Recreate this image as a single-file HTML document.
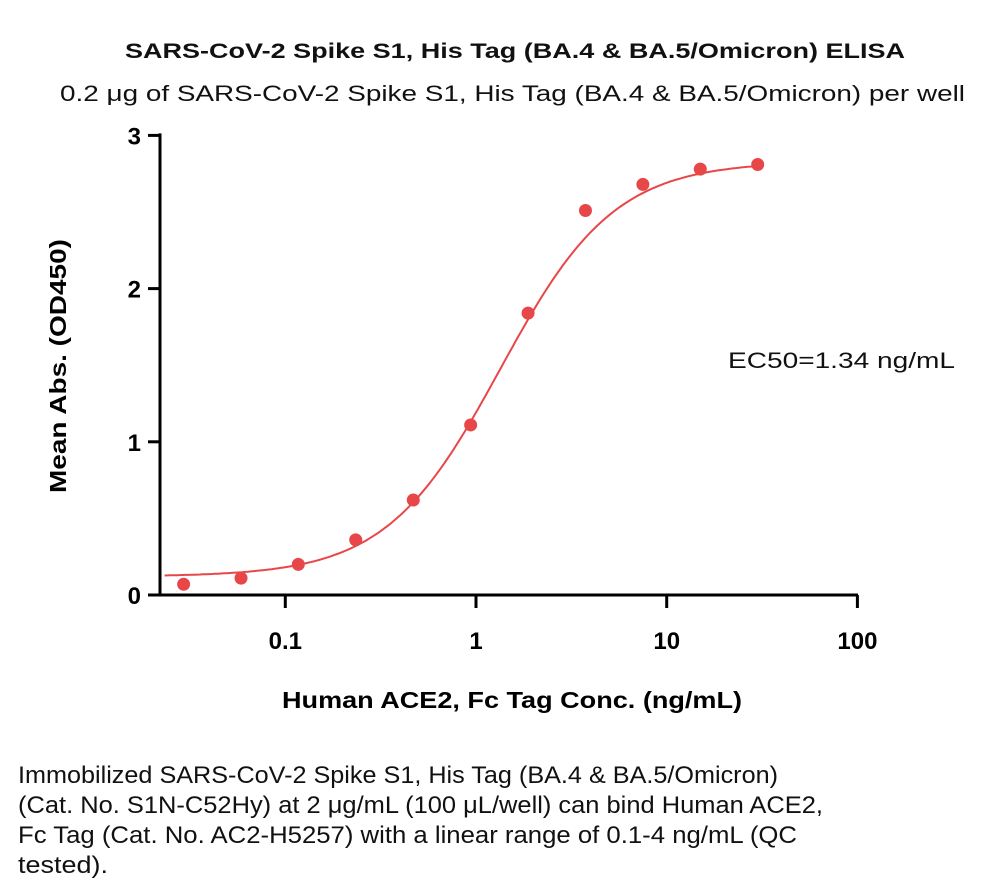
<!DOCTYPE html>
<html><head><meta charset="utf-8"><style>
body{margin:0;background:#fff;width:1000px;height:895px;overflow:hidden;font-family:"Liberation Sans",sans-serif}
svg text{font-family:"Liberation Sans",sans-serif}
</style></head><body>
<svg id="chart" width="1000" height="895" style="position:absolute;left:0;top:0">
<g font-size="24" fill="#111">
<text x="18" y="783" textLength="760" lengthAdjust="spacingAndGlyphs">Immobilized SARS-CoV-2 Spike S1, His Tag (BA.4 &amp; BA.5/Omicron)</text>
<text x="18" y="813" textLength="805" lengthAdjust="spacingAndGlyphs">(Cat. No. S1N-C52Hy) at 2 μg/mL (100 μL/well) can bind Human ACE2,</text>
<text x="18" y="843" textLength="779" lengthAdjust="spacingAndGlyphs">Fc Tag (Cat. No. AC2-H5257) with a linear range of 0.1-4 ng/mL (QC</text>
<text x="18" y="873" textLength="90" lengthAdjust="spacingAndGlyphs">tested).</text>
</g>
</svg>
<script>
const conc=[0.0293,0.0586,0.117,0.234,0.469,0.9375,1.875,3.75,7.5,15,30];
const od=[0.07,0.11,0.2,0.36,0.62,1.11,1.84,2.51,2.68,2.78,2.81];
const yTicks=[0,1,2,3];
const xTicks=[0.1,1,10,100];
const xTickLabels=["0.1","1","10","100"];
const fit={bottom:0.12,top:2.83,ec50:1.34,hill:1.45};
const svg=document.getElementById('chart');const NS='http://www.w3.org/2000/svg';
function X(v){return 476+Math.log10(v)*190.7;}
function Y(v){return 595-v*153.2;}
function mk(t,a,txt){const e=document.createElementNS(NS,t);for(const k in a)e.setAttribute(k,a[k]);if(txt!=null)e.textContent=txt;svg.appendChild(e);return e;}
let e;
e=mk('text',{x:125,y:58,'font-size':21,'font-weight':'bold',fill:'#111',textLength:780,lengthAdjust:'spacingAndGlyphs'},'SARS-CoV-2 Spike S1, His Tag (BA.4 & BA.5/Omicron) ELISA');


e=mk('text',{x:60,y:101,'font-size':22,fill:'#111',textLength:905,lengthAdjust:'spacingAndGlyphs'},'0.2 μg of SARS-CoV-2 Spike S1, His Tag (BA.4 & BA.5/Omicron) per well');


e=mk('line',{x1:160,y1:Y(3)-2,x2:160,y2:596,stroke:'#000','stroke-width':3});


e=mk('line',{x1:159,y1:595,x2:858,y2:595,stroke:'#000','stroke-width':3});


yTicks.forEach(v=>{e=mk('line',{x1:148,y1:Y(v),x2:160,y2:Y(v),stroke:'#000','stroke-width':3});


e=mk('text',{x:141,y:Y(v)+9,'text-anchor':'end','font-size':24,'font-weight':'bold'},String(v));

});
xTicks.forEach((v,i)=>{e=mk('line',{x1:X(v),y1:595,x2:X(v),y2:608,stroke:'#000','stroke-width':3});


e=mk('text',{x:X(v),y:649,'text-anchor':'middle','font-size':24,'font-weight':'bold'},xTickLabels[i]);

});
e=mk('text',{x:282,y:708,'font-size':23,'font-weight':'bold',textLength:460,lengthAdjust:'spacingAndGlyphs'},'Human ACE2, Fc Tag Conc. (ng/mL)');


e=mk('text',{x:0,y:0,'font-size':23,'font-weight':'bold',textLength:254,lengthAdjust:'spacingAndGlyphs',transform:'translate(66,493) rotate(-90)'},'Mean Abs. (OD450)');


let d='';const lo=Math.log10(conc[0])-0.1,hi=Math.log10(conc[conc.length-1])+0.01;
for(let i=0;i<=200;i++){const lx=lo+(hi-lo)*i/200,c=Math.pow(10,lx);const y=fit.bottom+(fit.top-fit.bottom)/(1+Math.pow(fit.ec50/c,fit.hill));d+=(i?'L':'M')+X(c).toFixed(1)+','+Y(y).toFixed(1);}
e=mk('path',{d:d,fill:'none',stroke:'#e8474a','stroke-width':2});


conc.forEach((c,i)=>{e=mk('circle',{cx:X(c),cy:Y(od[i]),r:6.5,fill:'#e8474a'});

});
e=mk('text',{x:728,y:368,'font-size':22,fill:'#111',textLength:227,lengthAdjust:'spacingAndGlyphs'},'EC50=1.34 ng/mL');


</script>
</body></html>
